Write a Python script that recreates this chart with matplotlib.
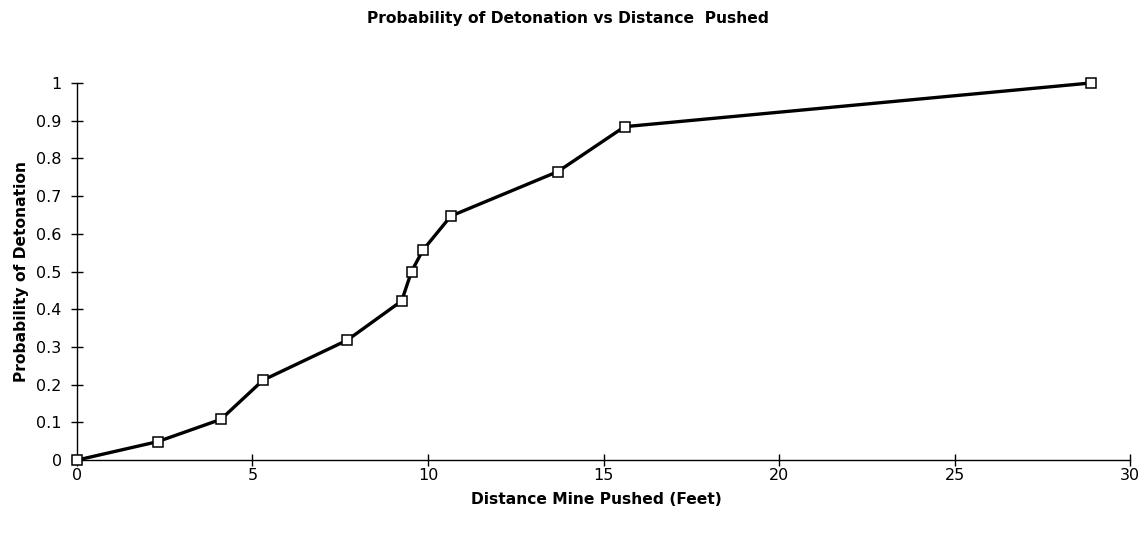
import numpy as np
import matplotlib.pyplot as plt

# distance mine pushed (feet) and probability of detonation
distance = [0.0, 2.3, 4.1, 5.3, 7.7, 9.25, 9.53, 9.85, 10.65, 13.7, 15.6, 28.9]
probability = [0.0, 0.049, 0.108, 0.212, 0.318, 0.422, 0.5, 0.556, 0.647, 0.765, 0.884, 1.0]

x_ticks = [0, 5, 10, 15, 20, 25, 30]
y_ticks = [0, 0.1, 0.2, 0.3, 0.4, 0.5, 0.6, 0.7, 0.8, 0.9, 1]
y_labels = ["0", "0.1", "0.2", "0.3", "0.4", "0.5", "0.6", "0.7", "0.8", "0.9", "1"]

plt.rcParams['font.family'] = ['DejaVu Sans']

fig = plt.figure(figsize=(11.44, 5.35), dpi=100)
ax = fig.add_axes([0.0673, 0.140, 0.9205, 0.705])

ax.plot(distance, probability, color='black', lw=2.4, marker='s', markersize=7,
        markerfacecolor='white', markeredgecolor='black', markeredgewidth=1.1,
        clip_on=False, zorder=3)

ax.set_xlim(0, 30)
ax.set_ylim(0, 1)
ax.set_xticks(x_ticks)
ax.set_yticks(y_ticks)
ax.set_yticklabels(y_labels)

for s in ['top', 'right']:
    ax.spines[s].set_visible(False)
for s in ['left', 'bottom']:
    ax.spines[s].set_linewidth(1.0)

ax.tick_params(direction='inout', length=8, width=1, labelsize=11.5)
ax.tick_params(axis='x', pad=2)
ax.tick_params(axis='y', pad=7)

ax.set_title("Probability of Detonation vs Distance  Pushed", fontsize=11.2,
             fontweight='bold', pad=43, x=0.466)
ax.set_xlabel("Distance Mine Pushed (Feet)", fontsize=11.2, fontweight='bold',
              labelpad=6, x=0.493)
ax.set_ylabel("Probability of Detonation", fontsize=11.2, fontweight='bold', labelpad=5)

fig.savefig("out.png", dpi=100)
